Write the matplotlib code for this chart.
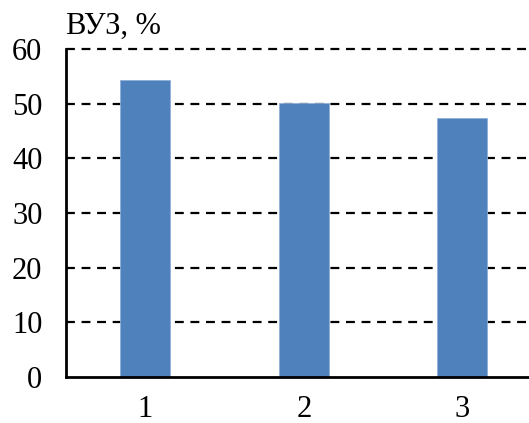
import matplotlib
matplotlib.use("Agg")
import matplotlib.pyplot as plt

categories = ["1", "2", "3"]
values = [54.3, 50.2, 47.3]
y_ticks = [0, 10, 20, 30, 40, 50, 60]

plt.rcParams['font.family'] = ['Liberation Serif', 'DejaVu Serif']

fig = plt.figure(figsize=(5.29, 4.23), dpi=100)
ax = fig.add_axes([66 / 529, 46 / 423, 475.5 / 529, 328 / 423])

x = list(range(1, len(categories) + 1))
ax.bar(x, values, width=0.315, color='#4F81BD', edgecolor='#8FB0D8', linewidth=0.6, zorder=3)

ax.set_xlim(0.5, 3.5)
ax.set_ylim(0, 60)
ax.set_yticks(y_ticks)
ax.set_xticks(x)
ax.set_xticklabels(categories)

for t in y_ticks[1:]:
    ax.axhline(t, color='black', lw=1.6, ls=(0, (4, 3)), zorder=2, clip_on=False)

for s in ['top', 'right']:
    ax.spines[s].set_visible(False)
ax.spines['left'].set_linewidth(2)
ax.spines['bottom'].set_linewidth(2)
ax.spines['left'].set_zorder(4)
ax.spines['bottom'].set_zorder(4)

ax.tick_params(axis='y', length=0, pad=17, labelsize=22)
ax.tick_params(axis='x', length=0, pad=13, labelsize=22)

fig.text(66 / 529, 1 - 34 / 423, "ВУЗ, %", fontsize=22, ha='left', va='baseline')

fig.savefig("out.png", dpi=100)
